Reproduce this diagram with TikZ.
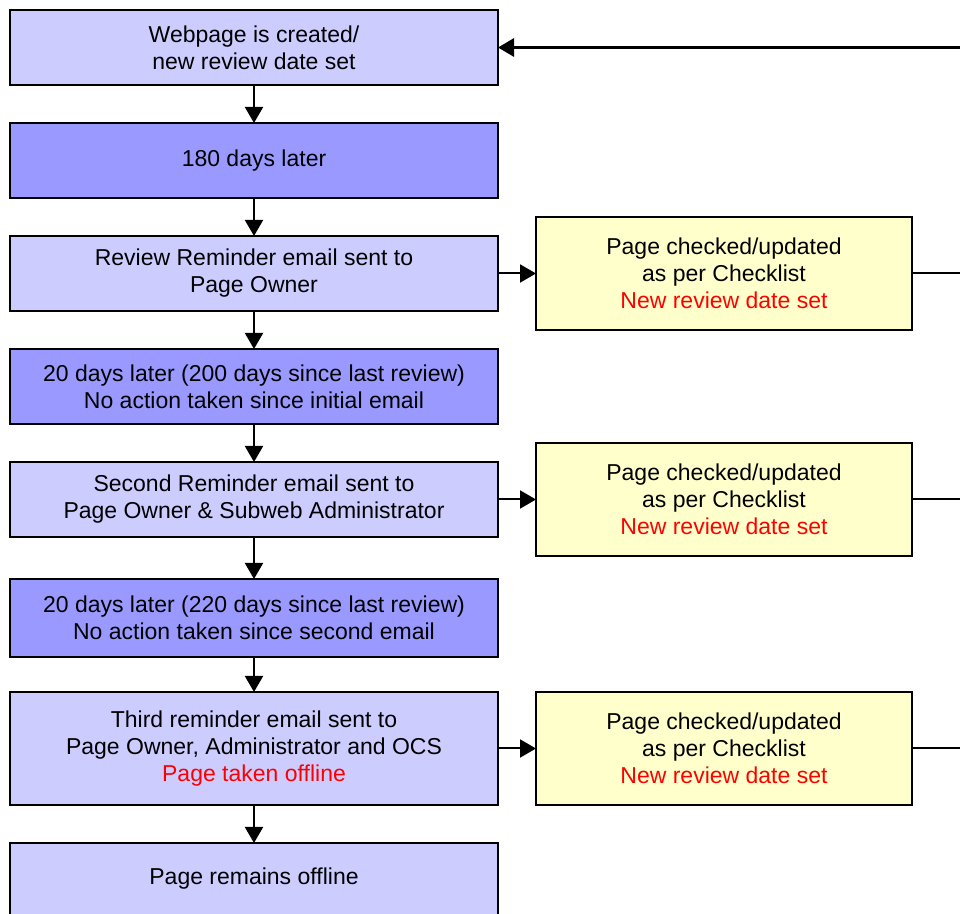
\documentclass[tikz,border=0pt]{standalone}
\usepackage{fontspec}
\setmainfont{Liberation Sans}
\usepackage{xcolor}
\usetikzlibrary{positioning,arrows.meta}

\definecolor{lightlav}{HTML}{CCCCFF}
\definecolor{darklav}{HTML}{9999FF}
\definecolor{paleyel}{HTML}{FFFFCC}
\definecolor{alertred}{HTML}{FF0000}

\begin{document}
\begin{tikzpicture}[node distance=19pt, font=\fontsize{11.5pt}{13.5pt}\selectfont]
        % Define styles
        \tikzstyle{event} = [rectangle, minimum width=244pt, minimum height=37.5pt, align=center, draw=black, line width=1pt, outer sep=0pt, fill=lightlav]
        \tikzstyle{wait} = [event, fill=darklav]
        \tikzstyle{check} = [rectangle, minimum width=188pt, minimum height=56.5pt, align=center, draw=black, line width=1pt, outer sep=0pt, fill=paleyel]
        \tikzstyle{arrow} = [line width=1pt, -{Triangle[width=9pt,length=8pt]}]
        \tikzstyle{link} = [line width=1pt]

        \useasboundingbox (0,0) rectangle (480pt,-457pt);
        \coordinate (edge) at (480pt,0);

        % Nodes
        \node [event, anchor=north west] (created) at (5pt,-5pt) {Webpage is created/\\new review date set};
        \node [wait, below=of created] (wait180) {180 days later};
        \node [event, below=of wait180] (remind1) {Review Reminder email sent to\\Page Owner};
        \node [wait, below=of remind1] (wait200) {20 days later (200 days since last review)\\No action taken since initial email};
        \node [event, below=of wait200] (remind2) {Second Reminder email sent to\\Page Owner \& Subweb Administrator};
        \node [wait, below=21pt of remind2, minimum height=39pt] (wait220) {20 days later (220 days since last review)\\No action taken since second email};
        \node [event, below=17.5pt of wait220, minimum height=56.5pt] (remind3) {Third reminder email sent to\\Page Owner, Administrator and OCS\\\textcolor{alertred}{Page taken offline}};
        \node [event, below=of remind3, minimum height=36pt] (offline) {Page remains offline};

        \node [check, right=of remind1] (checkA) {Page checked/updated\\as per Checklist\\\textcolor{alertred}{New review date set}};
        \node [check, right=of remind2] (checkB) {Page checked/updated\\as per Checklist\\\textcolor{alertred}{New review date set}};
        \node [check, right=of remind3] (checkC) {Page checked/updated\\as per Checklist\\\textcolor{alertred}{New review date set}};

        % Arrows
        \draw [arrow] (created) -- (wait180);
        \draw [arrow] (wait180) -- (remind1);
        \draw [arrow] (remind1) -- (wait200);
        \draw [arrow] (wait200) -- (remind2);
        \draw [arrow] (remind2) -- (wait220);
        \draw [arrow] (wait220) -- (remind3);
        \draw [arrow] (remind3) -- (offline);

        \draw [arrow] (remind1) -- (checkA);
        \draw [arrow] (remind2) -- (checkB);
        \draw [arrow] (remind3) -- (checkC);

        % Return lines
        \draw [link] (checkA.east) -- (checkA.east -| edge);
        \draw [link] (checkB.east) -- (checkB.east -| edge);
        \draw [link] (checkC.east) -- (checkC.east -| edge);
        \draw [line width=1.5pt, -{Triangle[width=9pt,length=8pt]}] (created.east -| edge) -- (created.east);
    \end{tikzpicture}
\end{document}
